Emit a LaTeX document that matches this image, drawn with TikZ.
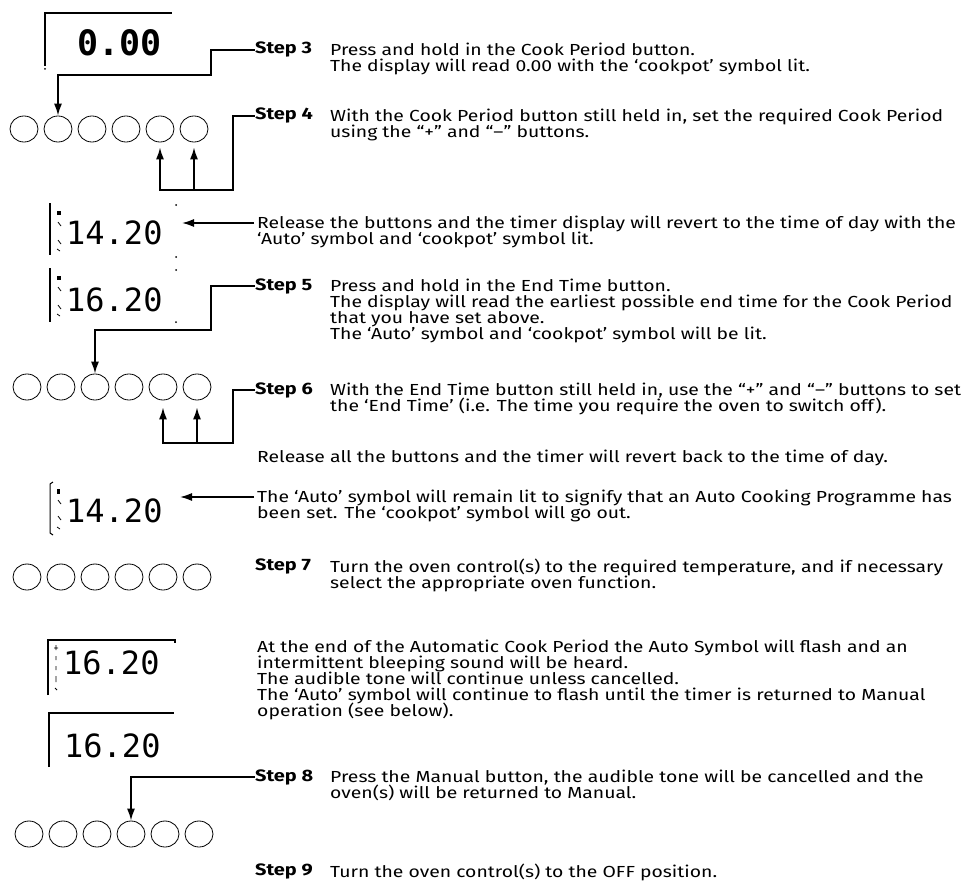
\documentclass[tikz,border=0pt]{standalone}
\usepackage{fontspec}
\setmainfont{Fira Sans}[FakeStretch=1.21]
\newfontfamily\lcdfont{DejaVu Sans Mono}
\usetikzlibrary{arrows.meta,shapes.geometric}

\tikzset{
  wire/.style={line width=1.6pt},
  arr/.style={wire,-{Latex[length=12pt,width=8pt]}},
  frame/.style={line width=1.5pt},
  btn/.style={draw,ellipse,line width=0.8pt,minimum width=28pt,minimum height=26pt,inner sep=0pt},
  lcd/.style={font=\lcdfont\fontsize{32}{32}\selectfont,anchor=west,inner sep=0pt},
  steplbl/.style={font=\fontsize{16.5}{16}\selectfont\bfseries,anchor=base west,inner sep=0pt},
  body/.style={font=\fontsize{16}{16}\selectfont,anchor=north west,inner sep=0pt,align=left,
    execute at begin node={\lineskiplimit=-20pt\strut}}
}

\begin{document}
\begin{tikzpicture}[x=1pt,y=-1pt]
    \useasboundingbox (0,0) rectangle (974,888);

    % displays
    \draw[frame] (45,66) -- (45,13) -- (172,13);
    \fill (45,69) circle (1pt);
    \node[lcd,font=\lcdfont\bfseries\fontsize{35}{35}\selectfont] (d1) at (77,43) {0.00};

    \draw[frame] (50,203) -- (50,255);
    \fill (176,205) circle (1pt);
    \fill (176,257) circle (1pt);
    \fill (57,211) rectangle (61,215);
    \draw[line width=0.8pt] (58,222) -- (61,226) (58,240) -- (61,244) (57,249) -- (60,251);
    \node[lcd] (d2) at (66,233) {14.20};

    \draw[frame] (50,268) -- (50,322);
    \fill (176,270) circle (1pt);
    \fill (176,322) circle (1pt);
    \fill (57,276) rectangle (61,280);
    \draw[line width=0.8pt] (58,287) -- (61,291) (58,305) -- (61,309) (57,314) -- (60,316);
    \node[lcd] (d3) at (66,300) {16.20};

    \draw[line width=1pt] (53,482) -- (50,484) -- (50,533) -- (53,535);
    \fill (57,489) rectangle (60,494);
    \draw[line width=0.8pt] (58,500) -- (61,504) (58,516) -- (61,520) (57,527) -- (60,529);
    \node[lcd] (d4) at (66,511) {14.20};

    \draw[frame] (48,695) -- (48,640) -- (175,640) -- (175,643);
    \draw[line width=0.8pt] (56,645) -- (56,650) (54,648) -- (58,648) (56,656) -- (56,660) (56,666) -- (56,670) (56,676) -- (56,682) (55,688) -- (57,690);
    \node[lcd] (d5) at (63,663) {16.20};

    \draw[frame] (49,767) -- (49,713) -- (174,713);
    \node[lcd] (d6) at (64,746) {16.20};

    % buttons
    \foreach \i in {1,...,6} {
        \node[btn] (b1\i) at (24+34*\i-34,129) {};
        \node[btn] (b2\i) at (27+34*\i-34,387) {};
        \node[btn] (b3\i) at (27+34*\i-34,577) {};
        \node[btn] (b4\i) at (29+34*\i-34,834) {};
    }

    % texts
    \node[steplbl] (s3) at (255,54) {Step 3};
    \node[body] (t3) at (330,43) {Press and hold in the Cook Period button.\\The display will read 0.00 with the ‘cookpot’ symbol lit.};
    \node[steplbl] (s4) at (255,120) {Step 4};
    \node[body] (t4) at (330,109) {With the Cook Period button still held in, set the required Cook Period\\using the “+” and “–” buttons.};
    \node[body] (r1) at (257,216) {Release the buttons and the timer display will revert to the time of day with the\\‘Auto’ symbol and ‘cookpot’ symbol lit.};
    \node[steplbl] (s5) at (255,290) {Step 5};
    \node[body] (t5) at (330,279) {Press and hold in the End Time button.\\The display will read the earliest possible end time for the Cook Period\\that you have set above.\\The ‘Auto’ symbol and ‘cookpot’ symbol will be lit.};
    \node[steplbl] (s6) at (255,394) {Step 6};
    \node[body] (t6) at (330,383) {With the End Time button still held in, use the “+” and “–” buttons to set\\the ‘End Time’ (i.e. The time you require the oven to switch off).};
    \node[body] (r2) at (257,450) {Release all the buttons and the timer will revert back to the time of day.};
    \node[body] (r3) at (257,490) {The ‘Auto’ symbol will remain lit to signify that an Auto Cooking Programme has\\been set. The ‘cookpot’ symbol will go out.};
    \node[steplbl] (s7) at (255,570) {Step 7};
    \node[body] (t7) at (330,559) {Turn the oven control(s) to the required temperature, and if necessary\\select the appropriate oven function.};
    \node[body] (r4) at (257,640) {At the end of the Automatic Cook Period the Auto Symbol will flash and an\\intermittent bleeping sound will be heard.\\The audible tone will continue unless cancelled.\\The ‘Auto’ symbol will continue to flash until the timer is returned to Manual\\operation (see below).};
    \node[steplbl] (s8) at (255,781) {Step 8};
    \node[body] (t8) at (330,770) {Press the Manual button, the audible tone will be cancelled and the\\oven(s) will be returned to Manual.};
    \node[steplbl] (s9) at (255,875) {Step 9};
    \node[body] (t9) at (330,864) {Turn the oven control(s) to the OFF position.};

    % connectors
    \coordinate (k4) at (233,190);
    \coordinate (k6) at (233,443);
    \coordinate (p2) at (182,223);
    \coordinate (p4) at (180,497);
    \draw[arr] (s3.west) -| (211,75) -| (b12.north);
    \draw[arr,shorten >=5pt] (s4.west) -| (k4) -| (b15.south);
    \draw[arr,shorten >=5pt] (b16.south |- k4) -- (b16.south);
    \draw[arr] (r1.north west) ++(-3,7) -- (p2);
    \draw[arr] (s5.west) -| (211,330) -| (b23.north);
    \draw[arr,shorten >=7pt] (s6.west) -| (k6) -| (b25.south);
    \draw[arr,shorten >=7pt] (b26.south |- k6) -- (b26.south);
    \draw[arr] (r3.north west) ++(-3,7) -- (p4);
    \draw[arr] (s8.west) -| (b44.north);
\end{tikzpicture}
\end{document}
